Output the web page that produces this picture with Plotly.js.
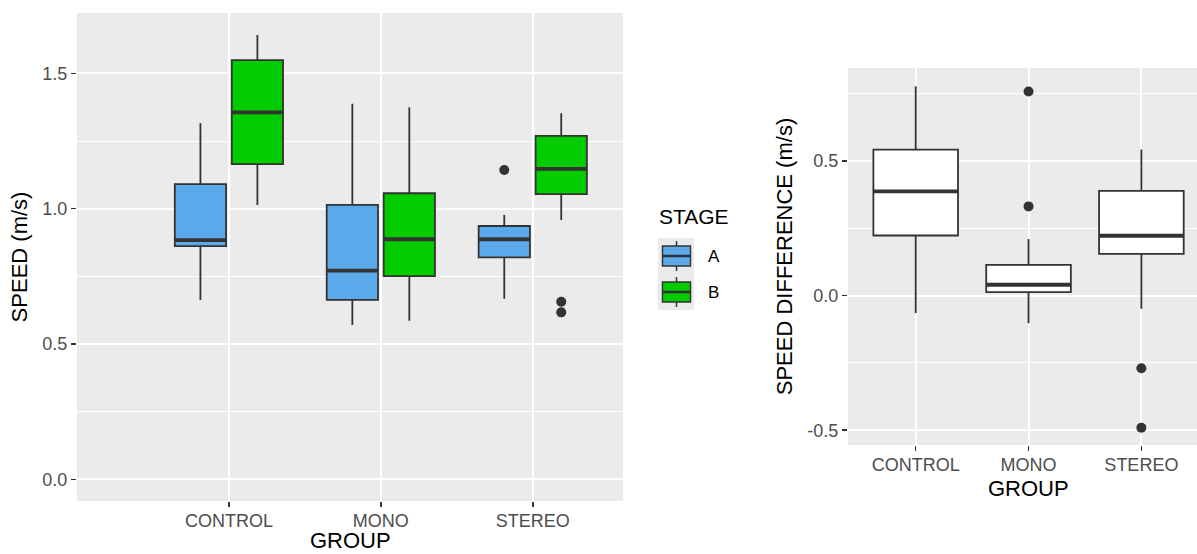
<!DOCTYPE html>
<html>
<head>
<meta charset="utf-8">
<script src="https://cdn.plot.ly/plotly-3.0.1.min.js"></script>
<style>html,body{margin:0;padding:0;background:#fff;}#chart{width:1197px;height:554px;}</style>
</head>
<body>
<div id="chart"></div>
<script>
// ---- data ----
const groups = ['CONTROL', 'MONO', 'STEREO'];
const stages = ['A', 'B'];

// SPEED (m/s), stage A
const aLower  = [0.663, 0.570, 0.667];
const aQ1     = [0.862, 0.663, 0.820];
const aMedian = [0.884, 0.771, 0.887];
const aQ3     = [1.091, 1.014, 0.936];
const aUpper  = [1.316, 1.388, 0.977];
const aOutGroup = ['STEREO'];
const aOutVal   = [1.143];

// SPEED (m/s), stage B
const bLower  = [1.014, 0.586, 0.958];
const bQ1     = [1.165, 0.751, 1.054];
const bMedian = [1.356, 0.887, 1.147];
const bQ3     = [1.549, 1.057, 1.269];
const bUpper  = [1.642, 1.375, 1.353];
const bOutGroup = ['STEREO', 'STEREO'];
const bOutVal   = [0.656, 0.617];

// SPEED DIFFERENCE (m/s)
const dLower  = [-0.065, -0.103, -0.049];
const dQ1     = [0.223, 0.013, 0.155];
const dMedian = [0.387, 0.040, 0.222];
const dQ3     = [0.542, 0.114, 0.389];
const dUpper  = [0.777, 0.210, 0.542];
const dOutGroup = ['MONO', 'MONO', 'STEREO', 'STEREO'];
const dOutVal   = [0.758, 0.331, -0.270, -0.491];

// ---- styling ----
const W = 1197, H = 554;
const FONT = 'Liberation Sans, Arial, sans-serif';
const stageColors = {A: '#5AAAEB', B: '#00CC00'};
const edge = '#333333';
const boxLineW = 1.8;
const medLineW = 3.8;
const dodge = 0.1875;
const boxW = 0.3375;
const diffW = 0.75;

const gpos = g => groups.indexOf(g) + 1;

function boxTrace(offset, width, lo, q1, med, q3, up, fill, xa, ya) {
  return {
    type: 'box', xaxis: xa, yaxis: ya,
    x: groups.map(g => gpos(g) + offset),
    lowerfence: lo, q1: q1, median: med, q3: q3, upperfence: up,
    width: width, whiskerwidth: 0,
    fillcolor: fill, line: {color: edge, width: boxLineW},
    boxpoints: false, showlegend: false, hoverinfo: 'skip'
  };
}
function medianTrace(offset, width, med, xa, ya) {
  const xs = [], ys = [];
  groups.forEach((g, i) => {
    xs.push(gpos(g) + offset - width / 2, gpos(g) + offset + width / 2, null);
    ys.push(med[i], med[i], null);
  });
  return {type: 'scatter', mode: 'lines', xaxis: xa, yaxis: ya, x: xs, y: ys,
    line: {color: edge, width: medLineW}, showlegend: false, hoverinfo: 'skip'};
}
function outTrace(offset, og, ov, xa, ya) {
  return {type: 'scatter', mode: 'markers', xaxis: xa, yaxis: ya,
    x: og.map(g => gpos(g) + offset), y: ov,
    marker: {color: edge, size: 10}, showlegend: false, hoverinfo: 'skip'};
}

const data = [
  boxTrace(-dodge, boxW, aLower, aQ1, aMedian, aQ3, aUpper, stageColors.A, 'x', 'y'),
  boxTrace(dodge, boxW, bLower, bQ1, bMedian, bQ3, bUpper, stageColors.B, 'x', 'y'),
  medianTrace(-dodge, boxW, aMedian, 'x', 'y'),
  medianTrace(dodge, boxW, bMedian, 'x', 'y'),
  outTrace(-dodge, aOutGroup, aOutVal, 'x', 'y'),
  outTrace(dodge, bOutGroup, bOutVal, 'x', 'y'),
  boxTrace(0, diffW, dLower, dQ1, dMedian, dQ3, dUpper, '#FFFFFF', 'x2', 'y2'),
  medianTrace(0, diffW, dMedian, 'x2', 'y2'),
  outTrace(0, dOutGroup, dOutVal, 'x2', 'y2')
];

const tickFont = {family: FONT, size: 18, color: '#4D4D4D'};
const titleFont = {family: FONT, size: 22, color: '#000000'};
const commonAxis = {
  showline: false, zeroline: false,
  showgrid: true, gridcolor: '#FFFFFF', gridwidth: 2,
  ticks: 'outside', ticklen: 5, tickwidth: 1.5, tickcolor: edge,
  tickfont: tickFont, fixedrange: true
};

// custom ggplot-like legend (paper coordinates from pixels)
const px = v => v / W, py = v => 1 - v / H;
const shapes = [];
const annotations = [];
shapes.push({type: 'rect', xref: 'paper', yref: 'paper', x0: px(658), x1: px(694), y0: py(238), y1: py(310),
  fillcolor: '#EBEBEB', line: {width: 0}, layer: 'below'});
stages.forEach((s, i) => {
  const cy = 256 + i * 36;
  shapes.push({type: 'line', xref: 'paper', yref: 'paper', x0: px(676.5), x1: px(676.5), y0: py(cy - 15), y1: py(cy + 15),
    line: {color: edge, width: 1.5}});
  shapes.push({type: 'rect', xref: 'paper', yref: 'paper', x0: px(662.5), x1: px(690.5), y0: py(cy - 10), y1: py(cy + 10),
    fillcolor: stageColors[s], line: {color: edge, width: 1.5}});
  shapes.push({type: 'line', xref: 'paper', yref: 'paper', x0: px(662.5), x1: px(690.5), y0: py(cy), y1: py(cy),
    line: {color: edge, width: 2.5}});
  annotations.push({xref: 'paper', yref: 'paper', x: px(706), y: py(cy), xanchor: 'left', yanchor: 'middle',
    text: s, showarrow: false, font: {family: FONT, size: 17, color: '#000'}});
});
annotations.push({xref: 'paper', yref: 'paper', x: px(657), y: py(216), xanchor: 'left', yanchor: 'middle',
  text: 'STAGE', showarrow: false, font: {family: FONT, size: 21, color: '#000'}});
// x-axis titles (ggplot centres them on the full panel)
annotations.push({xref: 'paper', yref: 'paper', x: px(350), y: 0, xanchor: 'center', yanchor: 'bottom',
  borderpad: 0, text: 'GROUP', showarrow: false, font: titleFont});
annotations.push({xref: 'x2', yref: 'paper', x: gpos('MONO'), y: py(488), xanchor: 'center', yanchor: 'middle',
  text: 'GROUP', showarrow: false, font: titleFont});

const layout = {
  width: W, height: H,
  margin: {l: 0, r: 0, t: 0, b: 0},
  paper_bgcolor: '#FFFFFF', plot_bgcolor: '#EBEBEB',
  showlegend: false,
  font: {family: FONT},
  xaxis: Object.assign({}, commonAxis, {
    domain: [px(77), px(623)], range: [0.0, 3.594],
    tickmode: 'array', tickvals: groups.map(gpos), ticktext: groups,
    ticklabelstandoff: -2
  }),
  yaxis: Object.assign({}, commonAxis, {
    domain: [py(501), py(13)], range: [-0.08, 1.723],
    tickmode: 'array', tickvals: [0, 0.5, 1.0, 1.5], ticktext: ['0.0', '0.5', '1.0', '1.5'],
    minor: {tickmode: 'array', tickvals: [0.25, 0.75, 1.25], showgrid: true, gridcolor: '#FFFFFF', gridwidth: 1, ticks: ''},
    title: {text: 'SPEED (m/s)', font: titleFont, standoff: 8}
  }),
  xaxis2: Object.assign({}, commonAxis, {
    anchor: 'y2',
    domain: [px(848), 1], range: [0.4, 3.493],
    tickmode: 'array', tickvals: groups.map(gpos), ticktext: groups,
    ticklabelstandoff: -2
  }),
  yaxis2: Object.assign({}, commonAxis, {
    anchor: 'x2',
    domain: [py(445), py(68)], range: [-0.555, 0.845],
    tickmode: 'array', tickvals: [-0.5, 0, 0.5], ticktext: ['-0.5', '0.0', '0.5'],
    minor: {tickmode: 'array', tickvals: [-0.25, 0.25, 0.75], showgrid: true, gridcolor: '#FFFFFF', gridwidth: 1, ticks: ''},
    title: {text: 'SPEED DIFFERENCE (m/s)', font: titleFont, standoff: 8}
  }),
  shapes: shapes,
  annotations: annotations
};

Plotly.newPlot('chart', data, layout, {displayModeBar: false, staticPlot: true});
</script>
</body>
</html>
